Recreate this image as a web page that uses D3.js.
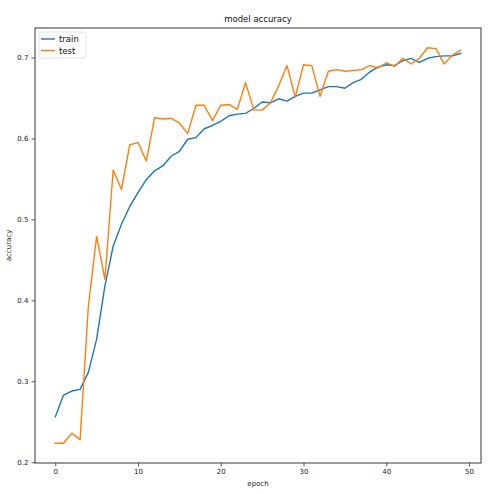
<!DOCTYPE html>
<html><head><meta charset="utf-8">
<script src="https://cdn.jsdelivr.net/npm/d3@7"></script>
<style>body{margin:0;background:#fff}svg{display:block}text{font-family:"DejaVu Sans",sans-serif}</style>
</head><body>
<svg id="c" width="492" height="494"></svg>
<script>
const epochs = d3.range(50);
const train = [0.256,0.283,0.288,0.290,0.311,0.352,0.418,0.467,0.494,0.516,0.533,0.549,0.560,0.566,0.578,0.584,0.599,0.601,0.612,0.616,
0.621,0.628,0.630,0.631,0.637,0.645,0.644,0.649,0.646,0.652,0.656,0.656,0.660,0.664,0.664,0.662,0.669,0.673,0.682,0.688,
0.691,0.690,0.696,0.699,0.694,0.699,0.701,0.702,0.702,0.705];
const test = [0.2235,0.2235,0.236,0.228,0.393,0.479,0.426,0.561,0.537,0.592,0.595,0.572,0.6255,0.624,0.625,0.619,0.606,0.641,0.641,0.622,
0.641,0.642,0.636,0.669,0.635,0.635,0.644,0.665,0.690,0.651,0.691,0.690,0.652,0.683,0.685,0.683,0.684,0.685,0.690,0.687,
0.6935,0.689,0.699,0.692,0.699,0.712,0.711,0.692,0.703,0.709];
const xTicks = [0,10,20,30,40,50];
const yTicks = [0.2,0.3,0.4,0.5,0.6,0.7];
const seriesNames = ["train","test"];
const colors = ["#1f77b4","#ff7f0e"];

const svg = d3.select("#c");
const L=35, R=481, T=28, B=463;
const x = d3.scaleLinear().domain([-2.45, 51.45]).range([L,R]);
const all = train.concat(test);
const lo = d3.min(all), hi = d3.max(all), pad = (hi-lo)*0.05;
const y = d3.scaleLinear().domain([lo-pad, hi+pad]).range([B,T]);

const line = d3.line().x((d,i)=>x(epochs[i])).y(d=>y(d));
[train,test].forEach((s,k)=>{
  svg.append("path").attr("d",line(s)).attr("fill","none").attr("stroke",colors[k])
    .attr("stroke-width",1.4).attr("stroke-linejoin","round").attr("stroke-linecap","square");
});

const xa = svg.append("g").attr("transform",`translate(0,${B})`)
  .call(d3.axisBottom(x).tickValues(xTicks).tickFormat(d3.format("d")).tickSize(3.5).tickPadding(3));
const ya = svg.append("g").attr("transform",`translate(${L},0)`)
  .call(d3.axisLeft(y).tickValues(yTicks).tickFormat(d3.format(".1f")).tickSize(3.5).tickPadding(3));
[xa,ya].forEach(a=>{
  a.select(".domain").remove();
  a.selectAll("line").attr("stroke","#333").attr("stroke-width",0.8);
  a.selectAll("text").attr("font-size",7).attr("fill","#222").attr("font-family","DejaVu Sans");
});
svg.append("rect").attr("x",L).attr("y",T).attr("width",R-L).attr("height",B-T)
  .attr("fill","none").attr("stroke","#222").attr("stroke-width",0.9);

svg.append("text").attr("x",(L+R)/2).attr("y",22).attr("text-anchor","middle")
  .attr("font-size",8.5).attr("fill","#111").text("model accuracy");
svg.append("text").attr("x",(L+R)/2).attr("y",486).attr("text-anchor","middle")
  .attr("font-size",7).attr("fill","#222").text("epoch");
svg.append("text").attr("transform",`translate(11,${(T+B)/2}) rotate(-90)`).attr("text-anchor","middle")
  .attr("font-size",7).attr("fill","#222").text("accuracy");

const lg = svg.append("g");
lg.append("rect").attr("x",39).attr("y",32).attr("width",47).attr("height",26).attr("rx",2)
  .attr("fill","#fff").attr("stroke","#ddd").attr("stroke-width",0.8);
seriesNames.forEach((n,k)=>{
  const yy = 39 + k*11.5;
  lg.append("line").attr("x1",41).attr("x2",55).attr("y1",yy).attr("y2",yy)
    .attr("stroke",colors[k]).attr("stroke-width",1.4);
  lg.append("text").attr("x",59).attr("y",yy+3).attr("font-size",8.5).attr("fill","#111").text(n);
});
</script>
</body></html>
